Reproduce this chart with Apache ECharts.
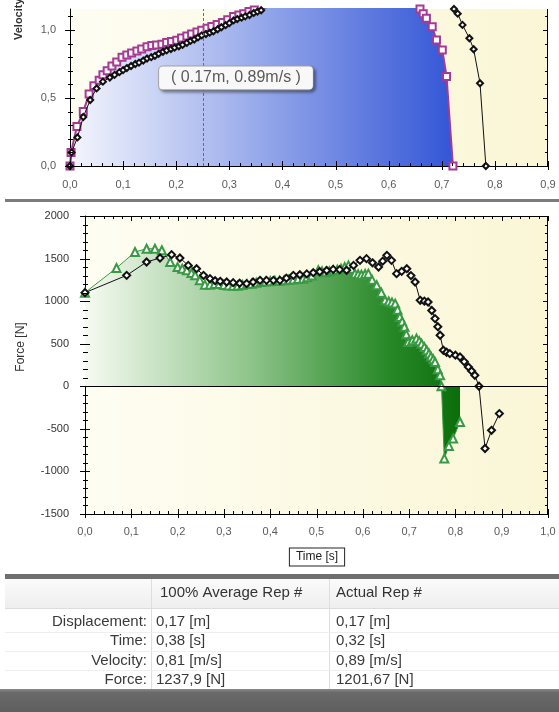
<!DOCTYPE html>
<html><head><meta charset="utf-8">
<script src="https://cdn.jsdelivr.net/npm/echarts@6/dist/echarts.min.js"></script>
<style>html,body{margin:0;padding:0;background:#fff;}#c{width:559px;height:712px;}</style>
</head><body><div id="c"></div>
<script>
// ---- Velocity vs displacement (top chart) ----
const velAvg = [[0,0],[0.002,0.10],[0.013,0.29],[0.025,0.40],[0.036,0.53],[0.045,0.59],[0.055,0.63],[0.062,0.67],[0.07,0.70],[0.079,0.735],[0.088,0.765],[0.098,0.80],[0.107,0.816],[0.116,0.83],[0.126,0.845],[0.135,0.86],[0.145,0.877],[0.154,0.885],[0.163,0.89],[0.173,0.895],[0.182,0.907],[0.191,0.915],[0.201,0.925],[0.21,0.94],[0.22,0.956],[0.229,0.97],[0.239,0.985],[0.248,0.998],[0.258,1.012],[0.267,1.025],[0.277,1.04],[0.287,1.055],[0.297,1.075],[0.308,1.098],[0.318,1.11],[0.327,1.12],[0.337,1.135],[0.347,1.147],[0.357,1.16],[0.37,1.18],[0.4,1.21],[0.45,1.25],[0.5,1.28],[0.55,1.29],[0.6,1.27],[0.63,1.23],[0.65,1.18],[0.659,1.154],[0.665,1.12],[0.671,1.086],[0.682,1.024],[0.69,0.926],[0.701,0.853],[0.709,0.657],[0.721,0.0]];
const velActual = [[0,0],[0.003,0.10],[0.014,0.21],[0.025,0.36],[0.038,0.485],[0.05,0.57],[0.062,0.62],[0.075,0.65],[0.084,0.67],[0.093,0.69],[0.1,0.705],[0.107,0.72],[0.115,0.735],[0.123,0.75],[0.13,0.76],[0.138,0.775],[0.145,0.79],[0.153,0.80],[0.16,0.81],[0.167,0.825],[0.175,0.84],[0.182,0.85],[0.19,0.86],[0.197,0.87],[0.205,0.88],[0.212,0.89],[0.22,0.905],[0.227,0.92],[0.234,0.93],[0.241,0.945],[0.248,0.96],[0.256,0.97],[0.263,0.98],[0.27,0.99],[0.278,1.005],[0.285,1.02],[0.293,1.035],[0.3,1.05],[0.308,1.07],[0.315,1.08],[0.323,1.09],[0.33,1.10],[0.338,1.11],[0.346,1.125],[0.353,1.135],[0.36,1.145],[0.368,1.16],[0.42,1.22],[0.5,1.28],[0.6,1.30],[0.68,1.25],[0.715,1.19],[0.723,1.154],[0.73,1.12],[0.739,1.037],[0.752,0.939],[0.76,0.858],[0.772,0.608],[0.783,0.0]];
const markerDisplacement = 0.25;
const tooltipText = '( 0.17m, 0.89m/s )';

// ---- Force vs time (bottom chart) ----
const forceAvg = [[0,1100],[0.068,1389],[0.108,1577],[0.133,1616],[0.151,1616],[0.166,1597],[0.184,1460],[0.2,1400],[0.21,1380],[0.22,1362],[0.23,1330],[0.238,1303],[0.248,1244],[0.259,1194],[0.27,1194],[0.28,1200],[0.29,1200],[0.3,1190],[0.31,1185],[0.32,1180],[0.33,1180],[0.34,1190],[0.35,1200],[0.36,1205],[0.37,1215],[0.38,1225],[0.39,1230],[0.4,1235],[0.41,1240],[0.42,1240],[0.43,1245],[0.44,1250],[0.45,1255],[0.46,1260],[0.471,1264],[0.48,1280],[0.49,1300],[0.504,1362],[0.512,1350],[0.52,1340],[0.528,1350],[0.536,1362],[0.545,1370],[0.553,1380],[0.561,1400],[0.569,1420],[0.576,1380],[0.583,1323],[0.59,1315],[0.597,1310],[0.605,1318],[0.612,1323],[0.62,1250],[0.63,1186],[0.64,1100],[0.648,1010],[0.656,995],[0.663,985],[0.67,971],[0.675,900],[0.68,814],[0.685,760],[0.69,700],[0.694,610],[0.698,520],[0.707,540],[0.716,560],[0.722,530],[0.727,500],[0.733,460],[0.738,423],[0.743,385],[0.747,350],[0.752,318],[0.756,285],[0.762,200],[0.767,129],[0.77,0],[0.776,-849],[0.786,-700],[0.795,-614],[0.81,-419]];
const forceActual = [[0,1100],[0.09,1303],[0.133,1460],[0.162,1507],[0.187,1546],[0.205,1507],[0.223,1420],[0.241,1381],[0.256,1303],[0.27,1264],[0.281,1240],[0.292,1233],[0.306,1225],[0.32,1217],[0.334,1210],[0.349,1206],[0.363,1225],[0.378,1244],[0.392,1244],[0.407,1244],[0.421,1244],[0.435,1270],[0.45,1303],[0.464,1310],[0.479,1320],[0.493,1334],[0.507,1345],[0.522,1360],[0.536,1373],[0.55,1370],[0.565,1362],[0.58,1420],[0.594,1479],[0.608,1499],[0.621,1450],[0.634,1401],[0.643,1470],[0.652,1538],[0.662,1479],[0.673,1323],[0.684,1350],[0.695,1381],[0.704,1300],[0.713,1225],[0.724,1010],[0.733,1000],[0.741,990],[0.749,890],[0.756,795],[0.762,700],[0.767,599],[0.774,423],[0.781,400],[0.788,384],[0.8,365],[0.81,344],[0.819,290],[0.828,227],[0.835,180],[0.842,129],[0.851,0],[0.864,-731],[0.878,-517],[0.895,-321]];

// ---- Table ----
const tableHeaders = ['100% Average Rep #', 'Actual Rep #'];
const rowLabels = ['Displacement:', 'Time:', 'Velocity:', 'Force:'];
const avgValues = ['0,17 [m]', '0,38 [s]', '0,81 [m/s]', '1237,9 [N]'];
const actualValues = ['0,17 [m]', '0,32 [s]', '0,89 [m/s]', '1201,67 [N]'];

const FONT = 'Liberation Sans';
const comma1 = v => v.toFixed(1).replace('.', ',');
const plainInt = v => String(Math.round(v));
const chart = echarts.init(document.getElementById('c'));
const VMAX = 1.154;

function mkAxis(gridIndex, min, max, interval, position, labelCfg) {
  return {
    type:'value', gridIndex:gridIndex, min:min, max:max, interval:interval, position:position,
    splitLine:{show:false},
    axisLine:{show:true, onZero:false, lineStyle:{color:'#000', width:1}},
    axisTick:{show:false},
    axisLabel: labelCfg
  };
}
const xAxes = [
  mkAxis(0, 0, 0.9, 0.1, 'bottom', {show:true, color:'#5a5a5a', fontSize:11, fontFamily:FONT, margin:13, formatter:comma1}),
  mkAxis(1, 0, 1.0, 0.1, 'bottom', {show:true, color:'#5a5a5a', fontSize:11, fontFamily:FONT, margin:12, formatter:comma1})
];
const yAxes = [
  mkAxis(0, 0, VMAX, 0.5, 'left', {show:true, color:'#5a5a5a', fontSize:11, fontFamily:FONT, margin:14, showMaxLabel:false, formatter:comma1}),
  mkAxis(1, -1500, 2000, 500, 'left', {show:true, color:'#333', fontSize:11, fontFamily:FONT, margin:16, formatter:plainInt})
];

// tick marks (value, side code, major flag); side: 0 bottom, 1 top, 2 left, 3 right, 4 right frame, 5 top frame
function ticks(min, max, step, major, side) {
  const out = [];
  const n = Math.round((max - min) / step);
  for (let i = 0; i <= n; i++) {
    const v = Math.round((min + i * step) * 10000) / 10000;
    const r = v / major;
    out.push([v, side, Math.abs(r - Math.round(r)) < 1e-6 ? 1 : 0]);
  }
  return out;
}
const topTicks = [].concat(ticks(0, 0.9, 0.02, 0.1, 0), ticks(0, 1.1, 0.1, 0.5, 2), ticks(0, 1.1, 0.1, 0.5, 3), [[0, 4, 0]]);
const botTicks = [].concat(ticks(0, 1.0, 0.02, 0.1, 0), ticks(0, 1.0, 0.02, 0.1, 1), ticks(-1500, 2000, 100, 500, 2), ticks(-1500, 2000, 100, 500, 3), [[0, 4, 0], [0, 5, 0]]);

function renderTick(params, api) {
  const v = api.value(0), side = api.value(1), major = api.value(2);
  const cs = params.coordSys;
  const left = cs.x, right = cs.x + cs.width, top = cs.y, bottom = cs.y + cs.height;
  let s;
  if (side === 0 || side === 1) {
    const px = Math.round(api.coord([v, 0])[0]) + 0.5;
    if (side === 0) s = {x1:px, y1:bottom - (major ? 5 : 3), x2:px, y2:bottom + (major ? 4 : 0)};
    else s = {x1:px, y1:top, x2:px, y2:top + (major ? 5 : 3)};
  } else if (side === 2 || side === 3) {
    const ext = api.coord([0, v]);
    const py = Math.round(ext[1]) + 0.5;
    if (side === 2) s = {x1:left - (major ? 5 : 2), y1:py, x2:left + (major ? 5 : 3), y2:py};
    else s = {x1:right - (major ? 5 : 3), y1:py, x2:right, y2:py};
  } else if (side === 4) {
    const rx = Math.round(right) - 0.5;
    s = {x1:rx, y1:top, x2:rx, y2:bottom};
  } else {
    const ty = Math.round(top) + 0.5;
    s = {x1:left, y1:ty, x2:right, y2:ty};
  }
  return {type:'line', shape:s, style:{stroke:'#000', lineWidth:1}, silent:true};
}

// page decorations and table
const creamBg = new echarts.graphic.LinearGradient(0,0,1,0,[{offset:0,color:'#fefdf2'},{offset:1,color:'#faf6d6'}]);
const W = 559;
const headerY = 593, rowY0 = 622, rowStep = 19.2;
const col1Right = 147, col2X = 156, col3X = 336, div1 = 151, div2 = 329;
const g = [];
g.push({type:'rect', shape:{x:5, y:199, width:W-5, height:3}, style:{fill:'#7c7c7c'}, z:10});
g.push({type:'rect', shape:{x:5, y:574, width:W-5, height:5}, style:{fill:'#6f6f6f'}, z:10});
g.push({type:'rect', shape:{x:5, y:579, width:W-5, height:30}, style:{fill:new echarts.graphic.LinearGradient(0,0,0,1,[{offset:0,color:'#fbfbfb'},{offset:1,color:'#eeeeee'}])}, z:10});
g.push({type:'rect', shape:{x:5, y:608, width:W-5, height:1}, style:{fill:'#dcdcdc'}, z:10});
g.push({type:'rect', shape:{x:0, y:689, width:W, height:23}, style:{fill:new echarts.graphic.LinearGradient(0,0,0,1,[{offset:0,color:'#8a8a8a'},{offset:0.15,color:'#6a6a6a'},{offset:1,color:'#5e5e5e'}])}, z:10});
g.push({type:'line', shape:{x1:div1+0.5, y1:579, x2:div1+0.5, y2:689}, style:{stroke:'#dedede', lineWidth:1}, z:11});
g.push({type:'line', shape:{x1:div2+0.5, y1:579, x2:div2+0.5, y2:689}, style:{stroke:'#dedede', lineWidth:1}, z:11});
g.push({type:'text', x:col2X+4, y:headerY, style:{text:tableHeaders[0], fill:'#333', font:'15px "'+FONT+'"', verticalAlign:'middle'}, z:12});
g.push({type:'text', x:col3X, y:headerY, style:{text:tableHeaders[1], fill:'#333', font:'15px "'+FONT+'"', verticalAlign:'middle'}, z:12});
rowLabels.forEach((lab, i) => {
  const y = rowY0 + i*rowStep;
  if (i > 0) g.push({type:'line', shape:{x1:5, y1:Math.round(y - rowStep/2)+0.5, x2:W, y2:Math.round(y - rowStep/2)+0.5}, style:{stroke:'#efefef', lineWidth:1}, z:11});
  g.push({type:'text', x:col1Right, y:y, style:{text:lab, fill:'#3a3a3a', font:'15px "'+FONT+'"', align:'right', verticalAlign:'middle'}, z:12});
  g.push({type:'text', x:col2X, y:y, style:{text:avgValues[i], fill:'#3a3a3a', font:'15px "'+FONT+'"', verticalAlign:'middle'}, z:12});
  g.push({type:'text', x:col3X, y:y, style:{text:actualValues[i], fill:'#3a3a3a', font:'15px "'+FONT+'"', verticalAlign:'middle'}, z:12});
});
g.push({type:'text', x:19, y:40, rotation:Math.PI/2, style:{text:'Velocity [m/s]', fill:'#333', font:'bold 11px "'+FONT+'"', align:'left', verticalAlign:'middle'}, z:12});
g.push({type:'text', x:21, y:347, rotation:Math.PI/2, style:{text:'Force [N]', fill:'#333', font:'12px "'+FONT+'"', align:'center', verticalAlign:'middle'}, z:12});
g.push({type:'text', x:317, y:557, style:{text:'Time [s]', fill:'#222', font:'12px "'+FONT+'"', align:'center', verticalAlign:'middle', backgroundColor:'#fff', borderColor:'#222', borderWidth:1, padding:[3,6,2,6]}, z:12});
g.push({type:'text', x:236, y:78, style:{text:tooltipText, fill:'#5a5a5a', font:'16px "'+FONT+'"', align:'center', verticalAlign:'middle', backgroundColor:'#f8f8f8', borderColor:'#a8a8a8', borderWidth:1, borderRadius:4, padding:[4,12,3,12], shadowBlur:3, shadowColor:'rgba(0,0,0,0.35)', shadowOffsetX:2, shadowOffsetY:2}, z:15});

chart.setOption({
  animation:false,
  backgroundColor:'#fff',
  grid:[
    {left:70, right:11, top:9, height:157, show:true, backgroundColor:creamBg, borderWidth:0},
    {left:85, right:11, top:216, height:298, show:true, backgroundColor:creamBg, borderWidth:0}
  ],
  xAxis:xAxes,
  yAxis:yAxes,
  graphic:g,
  series:[
    {type:'line', name:'avgVel', xAxisIndex:0, yAxisIndex:0, data:velAvg, symbol:'emptyRect', symbolSize:7, showAllSymbol:true, clip:true, z:3,
     lineStyle:{color:'#a53a95', width:2}, itemStyle:{color:'#a53a95', borderWidth:1},
     areaStyle:{opacity:1, color:new echarts.graphic.LinearGradient(0,0,1,0,[{offset:0,color:'#f4f6fd'},{offset:0.4,color:'#a9b8ee'},{offset:1,color:'#3356d6'}])},
     markLine:{silent:true, symbol:['none','none'], label:{show:false}, lineStyle:{color:'#d8307a', type:[3,2], width:1}, data:[{xAxis:markerDisplacement}]}},
    {type:'line', name:'actVel', xAxisIndex:0, yAxisIndex:0, data:velActual, symbol:'emptyDiamond', symbolSize:6, showAllSymbol:true, clip:true, z:4,
     lineStyle:{color:'#111', width:1}, itemStyle:{color:'#111', borderWidth:1}},
    {type:'line', name:'avgForce', xAxisIndex:1, yAxisIndex:1, data:forceAvg, symbol:'emptyTriangle', symbolSize:8, showAllSymbol:true, clip:true, z:3,
     lineStyle:{color:'#3a9a44', width:1}, itemStyle:{color:'#3a9a44', borderWidth:1},
     areaStyle:{opacity:1, color:new echarts.graphic.LinearGradient(0,0,1,0,[{offset:0,color:'#f6faf2'},{offset:0.45,color:'#8cc388'},{offset:0.8,color:'#2a8a2a'},{offset:1,color:'#0a6e0a'}])},
     markLine:{silent:true, symbol:['none','none'], label:{show:false}, lineStyle:{color:'#000', type:'solid', width:1}, data:[{yAxis:0}]}},
    {type:'line', name:'actForce', xAxisIndex:1, yAxisIndex:1, data:forceActual, symbol:'emptyDiamond', symbolSize:7, showAllSymbol:true, clip:true, z:4,
     lineStyle:{color:'#111', width:1}, itemStyle:{color:'#111', borderWidth:1}},
    {type:'custom', name:'topTicks', xAxisIndex:0, yAxisIndex:0, data:topTicks, renderItem:renderTick, silent:true, clip:false, z:6},
    {type:'custom', name:'botTicks', xAxisIndex:1, yAxisIndex:1, data:botTicks, renderItem:renderTick, silent:true, clip:false, z:6}
  ]
});
</script></body></html>
